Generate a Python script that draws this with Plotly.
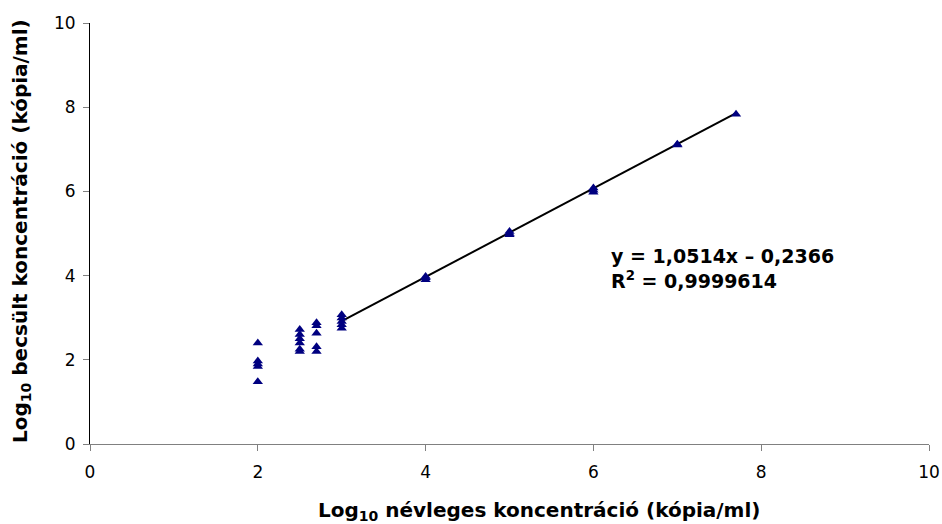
import plotly.graph_objects as go

# Measured data (log10 nominal vs log10 estimated)
x_vals = [2, 2, 2, 2, 2,
          2.5, 2.5, 2.5, 2.5, 2.5, 2.5,
          2.7, 2.7, 2.7, 2.7, 2.7,
          3, 3, 3, 3, 3,
          4, 4, 4,
          5, 5, 5,
          6, 6, 6,
          7, 7,
          7.7]
y_vals = [2.40, 1.97, 1.90, 1.84, 1.48,
          2.72, 2.60, 2.50, 2.40, 2.25, 2.20,
          2.88, 2.81, 2.63, 2.31, 2.20,
          3.07, 2.99, 2.91, 2.83, 2.75,
          3.90, 3.95, 3.98,
          4.97, 5.00, 5.05,
          5.98, 6.03, 6.08,
          7.10, 7.12,
          7.83]

# Trendline coefficients (from chart label)
slope = 1.0514
intercept = -0.2366
fit_x = [3, 7.7]
fit_y = [slope * v + intercept for v in fit_x]

eq_lines = ["y = 1,0514x – 0,2366", "R<sup>2</sup> = 0,9999614"]
x_title = "<b>Log<sub>10</sub> névleges koncentráció (kópia/ml)</b>"
y_title = "<b>Log<sub>10</sub> becsült koncentráció (kópia/ml)</b>"

x_ticks = [0, 2, 4, 6, 8, 10]
y_ticks = [0, 2, 4, 6, 8, 10]

FONT = "DejaVu Sans"

fig = go.Figure()
fig.add_trace(go.Scatter(
    x=fit_x, y=fit_y, mode="lines",
    line=dict(color="black", width=2), showlegend=False, hoverinfo="skip"))
fig.add_trace(go.Scatter(
    x=x_vals, y=y_vals, mode="markers",
    marker=dict(symbol="triangle-up", size=9, color="#000080",
                line=dict(width=0)),
    showlegend=False))

W, H = 942, 524
L, R, T, B = 90, 13, 23, 80
pw = W - L - R
ph = H - T - B


def px(xp):
    return (xp - L) / pw


def py(yp):
    return 1 - (yp - T) / ph


fig.add_annotation(
    x=px(609), y=py(243), xref="paper", yref="paper",
    text="<br>".join(eq_lines),
    showarrow=False, align="left", xanchor="left", yanchor="top",
    font=dict(family=FONT, size=19, color="black", weight="bold"))

fig.add_annotation(
    x=px(539), y=py(511), xref="paper", yref="paper", text=x_title,
    showarrow=False, xanchor="center", yanchor="middle",
    font=dict(family=FONT, size=20, color="black"))

fig.add_annotation(
    x=px(21), y=py(231), xref="paper", yref="paper", text=y_title,
    showarrow=False, xanchor="center", yanchor="middle", textangle=-90,
    font=dict(family=FONT, size=20, color="black"))

fig.update_layout(
    width=W, height=H,
    margin=dict(l=L, r=R, t=T, b=B, autoexpand=False),
    paper_bgcolor="white", plot_bgcolor="white",
    font=dict(family=FONT, size=17, color="black"),
    showlegend=False,
)

fig.update_xaxes(
    range=[0, 10], tickvals=x_ticks, ticktext=[str(v) for v in x_ticks],
    showgrid=False, zeroline=False, automargin=False,
    showline=True, linecolor="#808080", linewidth=1,
    ticks="outside", ticklen=6, tickcolor="#808080", tickwidth=1,
    ticklabelstandoff=7,
    tickfont=dict(family=FONT, size=17),
)
fig.update_yaxes(
    range=[0, 10], tickvals=y_ticks, ticktext=[str(v) for v in y_ticks],
    showgrid=False, zeroline=False, automargin=False,
    showline=True, linecolor="black", linewidth=1,
    ticks="outside", ticklen=6, tickcolor="#808080", tickwidth=1,
    ticklabelstandoff=4,
    tickfont=dict(family=FONT, size=17),
)

fig.write_html("out.html")
